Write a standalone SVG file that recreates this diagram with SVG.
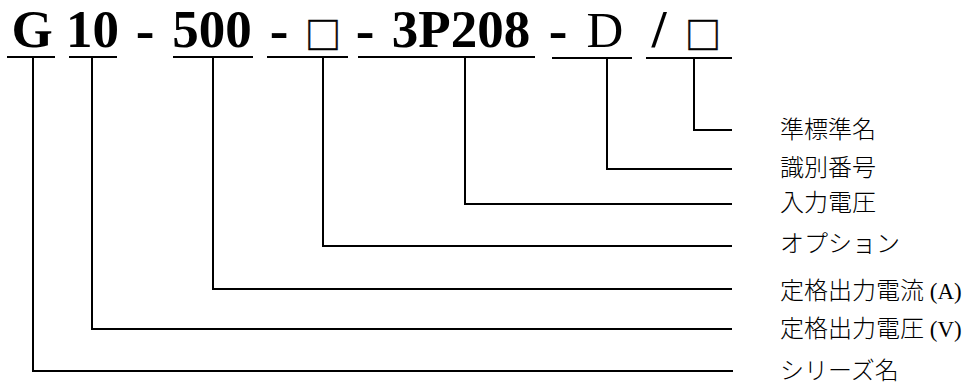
<svg xmlns="http://www.w3.org/2000/svg" width="972" height="385" viewBox="0 0 972 385">
<style>
.code{font-family:"Liberation Serif","Times New Roman",serif;font-size:53px;font-weight:bold;fill:#000;text-anchor:middle}
.reg{font-family:"Liberation Serif","Times New Roman",serif;font-size:51px;fill:#000;text-anchor:middle}
.dash{font-family:"Liberation Serif",serif;font-size:56px;font-weight:bold;fill:#000;text-anchor:middle}
.box{font-family:"Noto Sans CJK JP",sans-serif;font-size:36px;fill:#000;stroke:#000;stroke-width:0.6;text-anchor:middle}
.lbl{font-family:"Noto Sans CJK JP",sans-serif;font-size:24px;font-weight:300;fill:#000}
.lat{font-family:"Liberation Serif","Times New Roman",serif;font-size:23px;font-weight:normal}
.ln{fill:none;stroke:#000;stroke-width:2}
</style>
<rect width="972" height="385" fill="#fff"/>
<g id="code">
<g id="seg-g"><text class="code" x="32" y="47">G</text><line class="ln" x1="7" y1="57" x2="55" y2="57"/></g>
<g id="seg-10"><text class="code" x="92.5" y="47">10</text><line class="ln" x1="69" y1="57" x2="117" y2="57"/></g>
<text class="dash" x="145" y="49">-</text>
<g id="seg-500"><text class="code" x="212" y="47">500</text><line class="ln" x1="173" y1="57" x2="253" y2="57"/></g>
<text class="dash" x="279" y="49">-</text>
<g id="seg-opt"><text class="box" x="323" y="49">□</text><line class="ln" x1="267" y1="57" x2="348" y2="57"/></g>
<text class="dash" x="365" y="49">-</text>
<g id="seg-3p208"><text class="code" x="461" y="47">3P208</text><line class="ln" x1="358" y1="57" x2="535" y2="57"/></g>
<text class="dash" x="558" y="49">-</text>
<g id="seg-d"><text class="reg" x="605" y="47">D</text><line class="ln" x1="552" y1="58" x2="632" y2="58"/></g>
<g id="seg-std"><text class="code" x="659" y="47">/</text><text class="box" x="703" y="49">□</text><line class="ln" x1="646" y1="58" x2="732" y2="58"/></g>
</g>
<g id="connectors">
<polyline class="ln" points="694,58 694,130 732,130"/>
<polyline class="ln" points="607,58 607,169 732,169"/>
<polyline class="ln" points="465,57 465,204 732,204"/>
<polyline class="ln" points="323,57 323,246 732,246"/>
<polyline class="ln" points="213,57 213,289 732,289"/>
<polyline class="ln" points="92,57 92,329 732,329"/>
<polyline class="ln" points="33,57 33,371 733,371"/>
</g>
<g id="labels">
<g id="lbl-std"><text class="lbl" x="780" y="138">準標準名</text></g>
<g id="lbl-id"><text class="lbl" x="780" y="176">識別番号</text></g>
<g id="lbl-in"><text class="lbl" x="780" y="211">入力電圧</text></g>
<g id="lbl-opt"><text class="lbl" x="780" y="252">オプション</text></g>
<g id="lbl-a"><text class="lbl" x="780" y="299">定格出力電流<tspan class="lat"> (A)</tspan></text></g>
<g id="lbl-v"><text class="lbl" x="780" y="337">定格出力電圧<tspan class="lat"> (V)</tspan></text></g>
<g id="lbl-series"><text class="lbl" x="780" y="379">シリーズ名</text></g>
</g>
</svg>
